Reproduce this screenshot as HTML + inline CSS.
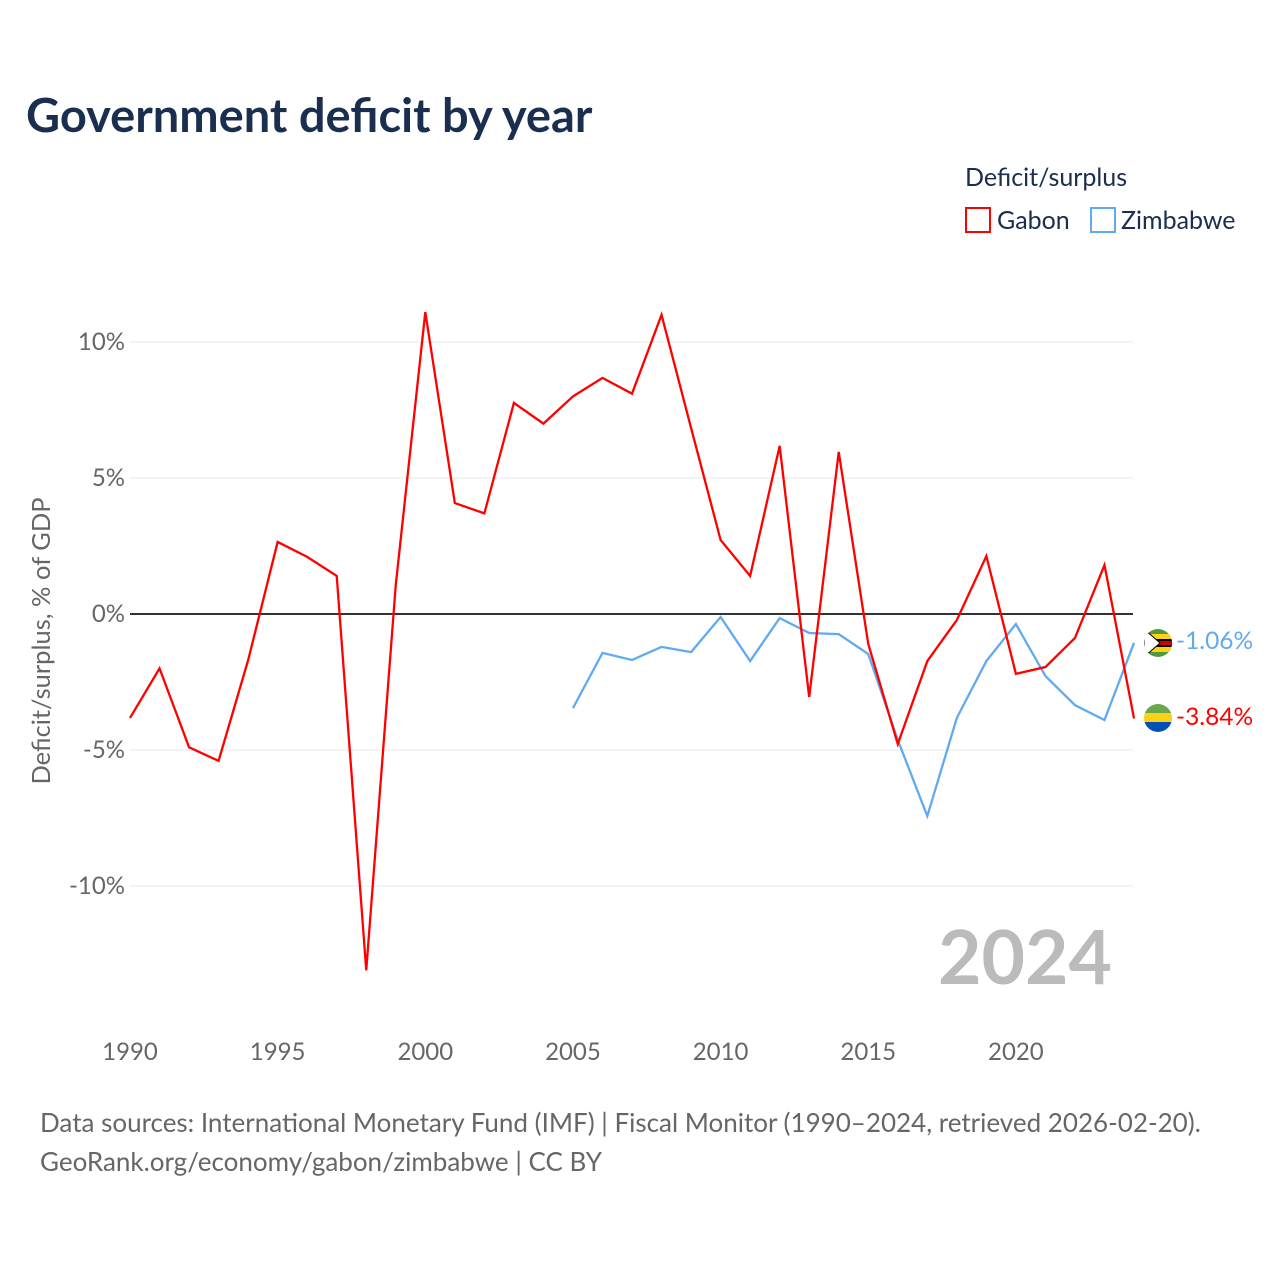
<!DOCTYPE html>
<html><head><meta charset="utf-8"><style>
body{margin:0;background:#fff;font-family:"Liberation Sans",sans-serif;}
svg text{font-family:"Lato","Liberation Sans",sans-serif;}
</style></head><body>
<svg id="c" width="1280" height="1280" xmlns="http://www.w3.org/2000/svg">
<defs>
<clipPath id="fz"><circle cx="1158" cy="643" r="14"/></clipPath>
<clipPath id="fg"><circle cx="1158" cy="718" r="14"/></clipPath>
</defs>
<text x="26" y="132" font-size="47" font-weight="bold" fill="#1a2e4f">Government deficit by year</text>
<text x="965" y="186" font-size="25" fill="#1a2e4f">Deficit/surplus</text>
<g><rect x="966" y="208" width="24" height="24" fill="none" stroke="#ff0000" stroke-width="2"/><text x="997" y="229" font-size="25" fill="#1a2e4f">Gabon</text></g>
<g><rect x="1091" y="208" width="24" height="24" fill="none" stroke="#62aaee" stroke-width="2"/><text x="1121" y="229" font-size="25" fill="#1a2e4f">Zimbabwe</text></g>
<g id="grid"></g>
<g id="xt"></g>
<text transform="translate(50,641) rotate(-90)" text-anchor="middle" font-size="25.5" fill="#666">Deficit/surplus, % of GDP</text>
<text x="1112" y="984" text-anchor="end" font-size="75" font-weight="bold" fill="#bbb">2024</text>
<g id="lines"></g>
<g clip-path="url(#fz)">
<rect x="1144" y="629" width="28" height="28" fill="#4f9a3a"/><rect x="1144" y="634" width="28" height="5" fill="#fcd116"/><rect x="1144" y="639" width="28" height="8" fill="#000"/><rect x="1144" y="641" width="28" height="4" fill="#d40000"/><rect x="1144" y="647" width="28" height="5" fill="#fcd116"/><polygon points="1144,629 1160,643 1144,657" fill="#fff" stroke="#000" stroke-width="1"/></g>
<g clip-path="url(#fg)">
<rect x="1144" y="704" width="28" height="10" fill="#6aa84f"/><rect x="1144" y="713" width="28" height="10" fill="#fcd116"/><rect x="1144" y="722" width="28" height="10" fill="#0050b5"/></g>
<text x="1176" y="649" font-size="24.5" fill="#62aaee">-1.06%</text>
<text x="1176" y="725" font-size="24.5" fill="#ff0000">-3.84%</text>
<text x="40" y="1132" font-size="26" fill="#666">Data sources: International Monetary Fund (IMF) | Fiscal Monitor (1990–2024, retrieved 2026-02-20).</text>
<text x="40" y="1171" font-size="26" fill="#666">GeoRank.org/economy/gabon/zimbabwe | CC BY</text>
</svg>
<script>
const yTicks=[10,5,0,-5,-10];
const yTickLabels=["10%","5%","0%","-5%","-10%"];
const xTicks=[1990,1995,2000,2005,2010,2015,2020];
const gabonYears=[1990,1991,1992,1993,1994,1995,1996,1997,1998,1999,2000,2001,2002,2003,2004,2005,2006,2007,2008,2009,2010,2011,2012,2013,2014,2015,2016,2017,2018,2019,2020,2021,2022,2023,2024];
const gabonValues=[-3.82,-2.0,-4.9,-5.4,-1.7,2.65,2.1,1.4,-13.1,1.07,11.1,4.08,3.7,7.76,7.0,8.0,8.68,8.1,11.0,6.84,2.72,1.4,6.18,-3.05,5.96,-1.1,-4.78,-1.73,-0.22,2.13,-2.2,-1.95,-0.88,1.8,-3.84];
const zimYears=[2005,2006,2007,2008,2009,2010,2011,2012,2013,2014,2015,2016,2017,2018,2019,2020,2021,2022,2023,2024];
const zimValues=[-3.46,-1.43,-1.69,-1.21,-1.4,-0.11,-1.73,-0.15,-0.7,-0.74,-1.47,-4.63,-7.43,-3.82,-1.73,-0.37,-2.28,-3.35,-3.9,-1.06];
const NS="http://www.w3.org/2000/svg";
const xS=y=>130+(y-1990)*29.53;
const yS=v=>614-v*27.2;
const grid=document.getElementById('grid');
yTicks.forEach((t,i)=>{
 const l=document.createElementNS(NS,'line');
 l.setAttribute('x1',130);l.setAttribute('x2',1133);l.setAttribute('y1',yS(t));l.setAttribute('y2',yS(t));
 l.setAttribute('stroke',t===0?'#333':'#e8e8e8');l.setAttribute('stroke-width',t===0?2:1);
 
 
 grid.appendChild(l);
 const tx=document.createElementNS(NS,'text');
 tx.setAttribute('x',125);tx.setAttribute('y',yS(t)+8);tx.setAttribute('text-anchor','end');
 tx.setAttribute('font-size','24');tx.setAttribute('fill','#666');tx.textContent=yTickLabels[i];
 
 
 grid.appendChild(tx);
});
const xt=document.getElementById('xt');
xTicks.forEach(t=>{
 const tx=document.createElementNS(NS,'text');
 tx.setAttribute('x',xS(t));tx.setAttribute('y',1060);tx.setAttribute('text-anchor','middle');
 tx.setAttribute('font-size','24');tx.setAttribute('fill','#666');tx.textContent=t;
 
 
 xt.appendChild(tx);
});
const lines=document.getElementById('lines');
function draw(xs,vs,c,n){
 const p=document.createElementNS(NS,'polyline');
 p.setAttribute('points',xs.map((x,i)=>xS(x)+','+yS(vs[i])).join(' '));
 p.setAttribute('fill','none');p.setAttribute('stroke',c);p.setAttribute('stroke-width',2.3);
 
 
 lines.appendChild(p);
}
draw(zimYears,zimValues,'#62aaee','zimbabwe-line');
draw(gabonYears,gabonValues,'#ff0000','gabon-line');
</script>
</body></html>
